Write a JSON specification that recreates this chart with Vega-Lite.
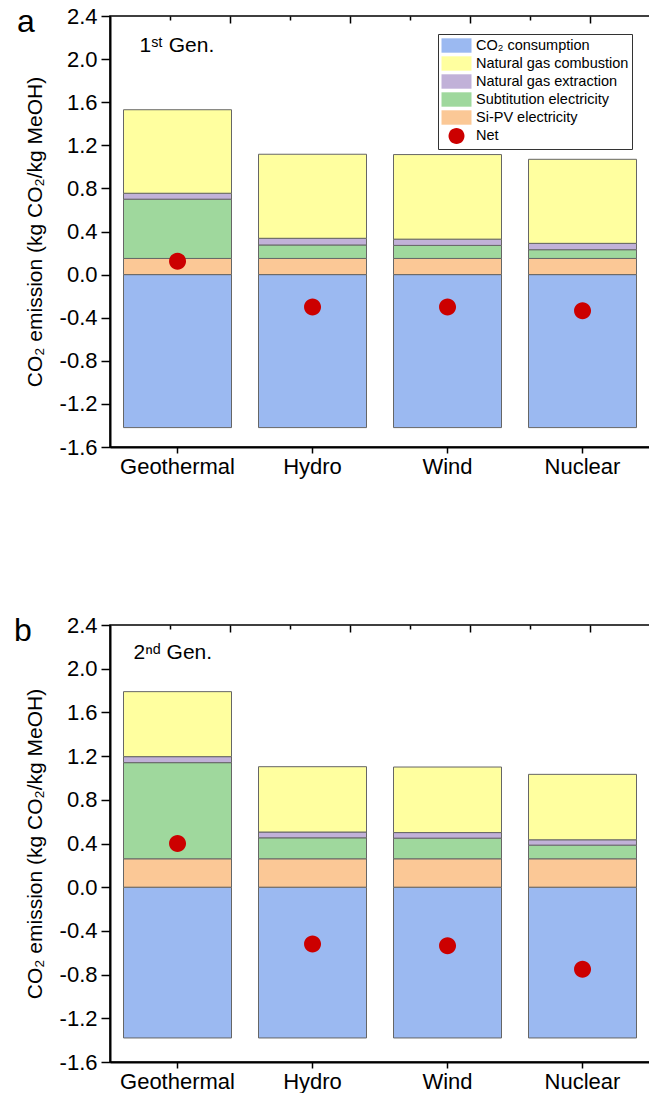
{
  "$schema": "https://vega.github.io/schema/vega-lite/v6.json",
  "padding": {"left": 13, "top": 4, "right": 0, "bottom": 0},
  "bounds": "flush",
  "spacing": 178,
  "data": {"values": [
    {"gen": "1st", "source": "Geothermal", "component": "CO₂ consumption", "value": -1.42},
    {"gen": "1st", "source": "Geothermal", "component": "Si-PV electricity", "value": 0.15},
    {"gen": "1st", "source": "Geothermal", "component": "Subtitution electricity", "value": 0.55},
    {"gen": "1st", "source": "Geothermal", "component": "Natural gas extraction", "value": 0.055},
    {"gen": "1st", "source": "Geothermal", "component": "Natural gas combustion", "value": 0.775},
    {"gen": "1st", "source": "Geothermal", "component": "Net", "value": 0.125},
    {"gen": "1st", "source": "Hydro", "component": "CO₂ consumption", "value": -1.42},
    {"gen": "1st", "source": "Hydro", "component": "Si-PV electricity", "value": 0.15},
    {"gen": "1st", "source": "Hydro", "component": "Subtitution electricity", "value": 0.125},
    {"gen": "1st", "source": "Hydro", "component": "Natural gas extraction", "value": 0.062},
    {"gen": "1st", "source": "Hydro", "component": "Natural gas combustion", "value": 0.78},
    {"gen": "1st", "source": "Hydro", "component": "Net", "value": -0.3},
    {"gen": "1st", "source": "Wind", "component": "CO₂ consumption", "value": -1.42},
    {"gen": "1st", "source": "Wind", "component": "Si-PV electricity", "value": 0.15},
    {"gen": "1st", "source": "Wind", "component": "Subtitution electricity", "value": 0.121},
    {"gen": "1st", "source": "Wind", "component": "Natural gas extraction", "value": 0.058},
    {"gen": "1st", "source": "Wind", "component": "Natural gas combustion", "value": 0.785},
    {"gen": "1st", "source": "Wind", "component": "Net", "value": -0.3},
    {"gen": "1st", "source": "Nuclear", "component": "CO₂ consumption", "value": -1.42},
    {"gen": "1st", "source": "Nuclear", "component": "Si-PV electricity", "value": 0.15},
    {"gen": "1st", "source": "Nuclear", "component": "Subtitution electricity", "value": 0.081},
    {"gen": "1st", "source": "Nuclear", "component": "Natural gas extraction", "value": 0.059},
    {"gen": "1st", "source": "Nuclear", "component": "Natural gas combustion", "value": 0.78},
    {"gen": "1st", "source": "Nuclear", "component": "Net", "value": -0.335},
    {"gen": "2nd", "source": "Geothermal", "component": "CO₂ consumption", "value": -1.38},
    {"gen": "2nd", "source": "Geothermal", "component": "Si-PV electricity", "value": 0.26},
    {"gen": "2nd", "source": "Geothermal", "component": "Subtitution electricity", "value": 0.88},
    {"gen": "2nd", "source": "Geothermal", "component": "Natural gas extraction", "value": 0.055},
    {"gen": "2nd", "source": "Geothermal", "component": "Natural gas combustion", "value": 0.595},
    {"gen": "2nd", "source": "Geothermal", "component": "Net", "value": 0.4},
    {"gen": "2nd", "source": "Hydro", "component": "CO₂ consumption", "value": -1.38},
    {"gen": "2nd", "source": "Hydro", "component": "Si-PV electricity", "value": 0.26},
    {"gen": "2nd", "source": "Hydro", "component": "Subtitution electricity", "value": 0.192},
    {"gen": "2nd", "source": "Hydro", "component": "Natural gas extraction", "value": 0.053},
    {"gen": "2nd", "source": "Hydro", "component": "Natural gas combustion", "value": 0.598},
    {"gen": "2nd", "source": "Hydro", "component": "Net", "value": -0.52},
    {"gen": "2nd", "source": "Wind", "component": "CO₂ consumption", "value": -1.38},
    {"gen": "2nd", "source": "Wind", "component": "Si-PV electricity", "value": 0.26},
    {"gen": "2nd", "source": "Wind", "component": "Subtitution electricity", "value": 0.189},
    {"gen": "2nd", "source": "Wind", "component": "Natural gas extraction", "value": 0.051},
    {"gen": "2nd", "source": "Wind", "component": "Natural gas combustion", "value": 0.6},
    {"gen": "2nd", "source": "Wind", "component": "Net", "value": -0.535},
    {"gen": "2nd", "source": "Nuclear", "component": "CO₂ consumption", "value": -1.38},
    {"gen": "2nd", "source": "Nuclear", "component": "Si-PV electricity", "value": 0.26},
    {"gen": "2nd", "source": "Nuclear", "component": "Subtitution electricity", "value": 0.125},
    {"gen": "2nd", "source": "Nuclear", "component": "Natural gas extraction", "value": 0.049},
    {"gen": "2nd", "source": "Nuclear", "component": "Natural gas combustion", "value": 0.599},
    {"gen": "2nd", "source": "Nuclear", "component": "Net", "value": -0.75}
  ]},
  "vconcat": [
    {
      "width": 540,
      "height": 431,
      "layer": [
        {
          "layer": [
            {
              "transform": [
                {"filter": "datum.gen === '1st' && datum.component !== 'Net'"},
                {"calculate": "indexof(['CO₂ consumption','Si-PV electricity','Subtitution electricity','Natural gas extraction','Natural gas combustion'], datum.component)", "as": "ord"}
              ],
              "mark": {"type": "bar", "stroke": "#666666", "strokeWidth": 1},
              "encoding": {
                "x": {"field": "source", "type": "nominal", "sort": ["Geothermal", "Hydro", "Wind", "Nuclear"],
                  "scale": {"paddingInner": 0.2, "paddingOuter": 0.1},
                  "axis": {"title": null, "labelAngle": 0, "labelFontSize": 22, "labelPadding": 3, "tickBand": "boundary", "tickSize": 6, "tickWidth": 1.5, "domainWidth": 2}},
                "y": {"field": "value", "type": "quantitative", "stack": "zero",
                  "scale": {"domain": [-1.6, 2.4], "nice": false, "zero": false},
                  "axis": {"title": "CO₂ emission (kg CO₂/kg MeOH)", "titleFontSize": 21, "titlePadding": 14,
                    "values": [-1.6, -1.4, -1.2, -1.0, -0.8, -0.6, -0.4, -0.2, 0, 0.2, 0.4, 0.6, 0.8, 1.0, 1.2, 1.4, 1.6, 1.8, 2.0, 2.2, 2.4],
                    "labelExpr": "round(datum.value*10) % 4 == 0 ? replace(format(datum.value, '.1f'), '−', '-') : ''",
                    "labelOverlap": false, "labelFontSize": 22, "labelPadding": 4,
                    "tickSize": {"condition": {"test": "round(datum.value*10) % 4 == 0", "value": 9}, "value": 5},
                    "tickWidth": 1.5, "domainWidth": 2}},
                "color": {"field": "component", "type": "nominal",
                  "scale": {"domain": ["CO₂ consumption", "Natural gas combustion", "Natural gas extraction", "Subtitution electricity", "Si-PV electricity", "Net"],
                    "range": ["#9bb9f1", "#ffff9f", "#c1b1d8", "#9fd89d", "#fbc896", "#cc0000"]},
                  "legend": {"title": null}},
                "order": {"field": "ord", "type": "quantitative"}
              }
            },
            {
              "transform": [{"filter": "datum.gen === '1st' && datum.component === 'Net'"}],
              "mark": {"type": "point", "filled": true, "size": 289, "opacity": 1, "xOffset": -7.4},
              "encoding": {
                "x": {"field": "source", "type": "nominal", "sort": ["Geothermal", "Hydro", "Wind", "Nuclear"]},
                "y": {"field": "value", "type": "quantitative"},
                "color": {"field": "component", "type": "nominal"},
                "shape": {"field": "component", "type": "nominal",
                  "scale": {"domain": ["CO₂ consumption", "Natural gas combustion", "Natural gas extraction", "Subtitution electricity", "Si-PV electricity", "Net"],
                    "range": ["M-1,-0.9H2.75V0.9H-1Z", "M-1,-0.9H2.75V0.9H-1Z", "M-1,-0.9H2.75V0.9H-1Z", "M-1,-0.9H2.75V0.9H-1Z", "M-1,-0.9H2.75V0.9H-1Z", "M1.875,0A1,1,0,1,1,-0.125,0A1,1,0,1,1,1.875,0Z"]},
                  "legend": {"title": null}}
              }
            },
            {
              "data": {"values": [{}]},
              "mark": {"type": "text", "text": "1ˢᵗ Gen.", "align": "left", "baseline": "alphabetic", "fontSize": 21, "font": "Liberation Sans", "color": "black", "dx": -38},
              "encoding": {
                "x": {"datum": "Geothermal", "type": "nominal"},
                "y": {"datum": 2.07, "type": "quantitative"}
              }
            },
            {
              "data": {"values": [{}]},
              "mark": {"type": "text", "text": "a", "align": "left", "baseline": "alphabetic", "fontSize": 32, "font": "Liberation Sans", "color": "black", "dx": -160.5},
              "encoding": {
                "x": {"datum": "Geothermal", "type": "nominal"},
                "y": {"datum": 2.25, "type": "quantitative"}
              }
            }
          ]
        },
        {
          "data": {"values": [{}]},
          "mark": {"type": "rule", "opacity": 0},
          "encoding": {
            "x": {"datum": 0, "type": "quantitative", "scale": {"domain": [0, 4.5], "nice": false, "zero": false},
              "axis": {"orient": "top", "title": null, "labels": false, "domain": false, "grid": false,
                "values": [0.5, 1, 1.5, 2, 2.5, 3, 3.5, 4, 4.5],
                "tickSize": {"condition": {"test": "datum.value % 1 == 0", "value": -7}, "value": -4},
                "tickWidth": 1.5}}
          }
        }
      ],
      "resolve": {"scale": {"x": "independent"}, "axis": {"x": "independent"}}
    },
    {
      "width": 540,
      "height": 437,
      "layer": [
        {
          "layer": [
            {
              "transform": [
                {"filter": "datum.gen === '2nd' && datum.component !== 'Net'"},
                {"calculate": "indexof(['CO₂ consumption','Si-PV electricity','Subtitution electricity','Natural gas extraction','Natural gas combustion'], datum.component)", "as": "ord"}
              ],
              "mark": {"type": "bar", "stroke": "#666666", "strokeWidth": 1},
              "encoding": {
                "x": {"field": "source", "type": "nominal", "sort": ["Geothermal", "Hydro", "Wind", "Nuclear"],
                  "scale": {"paddingInner": 0.2, "paddingOuter": 0.1},
                  "axis": {"title": null, "labelAngle": 0, "labelFontSize": 22, "labelPadding": 3, "tickBand": "boundary", "tickSize": 6, "tickWidth": 1.5, "domainWidth": 2}},
                "y": {"field": "value", "type": "quantitative", "stack": "zero",
                  "scale": {"domain": [-1.6, 2.4], "nice": false, "zero": false},
                  "axis": {"title": "CO₂ emission (kg CO₂/kg MeOH)", "titleFontSize": 21, "titlePadding": 14,
                    "values": [-1.6, -1.4, -1.2, -1.0, -0.8, -0.6, -0.4, -0.2, 0, 0.2, 0.4, 0.6, 0.8, 1.0, 1.2, 1.4, 1.6, 1.8, 2.0, 2.2, 2.4],
                    "labelExpr": "round(datum.value*10) % 4 == 0 ? replace(format(datum.value, '.1f'), '−', '-') : ''",
                    "labelOverlap": false, "labelFontSize": 22, "labelPadding": 4,
                    "tickSize": {"condition": {"test": "round(datum.value*10) % 4 == 0", "value": 9}, "value": 5},
                    "tickWidth": 1.5, "domainWidth": 2}},
                "color": {"field": "component", "type": "nominal",
                  "scale": {"domain": ["CO₂ consumption", "Natural gas combustion", "Natural gas extraction", "Subtitution electricity", "Si-PV electricity", "Net"],
                    "range": ["#9bb9f1", "#ffff9f", "#c1b1d8", "#9fd89d", "#fbc896", "#cc0000"]},
                  "legend": {"title": null}},
                "order": {"field": "ord", "type": "quantitative"}
              }
            },
            {
              "transform": [{"filter": "datum.gen === '2nd' && datum.component === 'Net'"}],
              "mark": {"type": "point", "filled": true, "size": 289, "opacity": 1, "xOffset": -7.4},
              "encoding": {
                "x": {"field": "source", "type": "nominal", "sort": ["Geothermal", "Hydro", "Wind", "Nuclear"]},
                "y": {"field": "value", "type": "quantitative"},
                "color": {"field": "component", "type": "nominal"},
                "shape": {"field": "component", "type": "nominal",
                  "scale": {"domain": ["CO₂ consumption", "Natural gas combustion", "Natural gas extraction", "Subtitution electricity", "Si-PV electricity", "Net"],
                    "range": ["M-1,-0.9H2.75V0.9H-1Z", "M-1,-0.9H2.75V0.9H-1Z", "M-1,-0.9H2.75V0.9H-1Z", "M-1,-0.9H2.75V0.9H-1Z", "M-1,-0.9H2.75V0.9H-1Z", "M1.875,0A1,1,0,1,1,-0.125,0A1,1,0,1,1,1.875,0Z"]},
                  "legend": {"title": null}}
              }
            },
            {
              "data": {"values": [{}]},
              "mark": {"type": "text", "text": "2ⁿᵈ Gen.", "align": "left", "baseline": "alphabetic", "fontSize": 21, "font": "Liberation Sans", "color": "black", "dx": -44},
              "encoding": {
                "x": {"datum": "Geothermal", "type": "nominal"},
                "y": {"datum": 2.086, "type": "quantitative"}
              }
            },
            {
              "data": {"values": [{}]},
              "mark": {"type": "text", "text": "b", "align": "left", "baseline": "alphabetic", "fontSize": 32, "font": "Liberation Sans", "color": "black", "dx": -163.5},
              "encoding": {
                "x": {"datum": "Geothermal", "type": "nominal"},
                "y": {"datum": 2.253, "type": "quantitative"}
              }
            }
          ]
        },
        {
          "data": {"values": [{}]},
          "mark": {"type": "rule", "opacity": 0},
          "encoding": {
            "x": {"datum": 0, "type": "quantitative", "scale": {"domain": [0, 4.5], "nice": false, "zero": false},
              "axis": {"orient": "top", "title": null, "labels": false, "domain": false, "grid": false,
                "values": [0.5, 1, 1.5, 2, 2.5, 3, 3.5, 4, 4.5],
                "tickSize": {"condition": {"test": "datum.value % 1 == 0", "value": -7}, "value": -4},
                "tickWidth": 1.5}}
          }
        }
      ],
      "resolve": {"scale": {"x": "independent"}, "axis": {"x": "independent"}}
    }
  ],
  "config": {
    "font": "Liberation Sans",
    "view": {"stroke": "black", "strokeWidth": 1.5},
    "axis": {"labelFont": "Liberation Sans", "titleFont": "Liberation Sans", "labelColor": "black", "titleColor": "black", "domainColor": "black", "tickColor": "black", "grid": false, "titleFontWeight": "normal"},
    "legend": {"orient": "top-right", "offset": 18, "padding": 3, "strokeColor": "#333333", "fillColor": "white", "labelFontSize": 14.5, "labelFont": "Liberation Sans", "labelColor": "black", "symbolSize": 256, "symbolStrokeWidth": 1, "symbolStrokeColor": "#777777", "labelOffset": 18, "rowPadding": -1.5, "symbolOpacity": 1}
  }
}
